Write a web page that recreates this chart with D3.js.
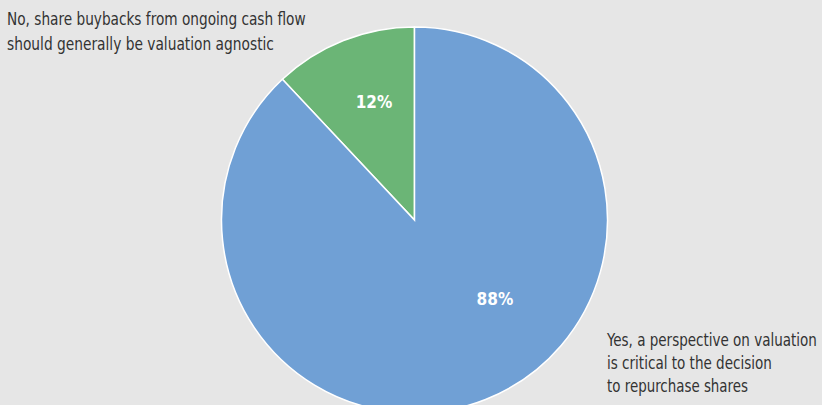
<!DOCTYPE html>
<html>
<head>
<meta charset="utf-8">
<script src="https://cdn.jsdelivr.net/npm/d3@7"></script>
<style>
  body { margin: 0; background: #e6e6e6; }
  svg { display: block; }
  .lbl { font-family: "DejaVu Sans Condensed", "Liberation Sans Narrow", sans-serif; fill: #333; font-size: 17.5px; }
  .pct { font-family: "DejaVu Sans Condensed", "Liberation Sans Narrow", sans-serif; fill: #fff; font-size: 17px; font-weight: bold; }
</style>
</head>
<body>
<script>
// answers to the survey question
const answers = ["No", "Yes"];
const shares = [12, 88];
const colours = ["#6bb576", "#70a0d5"];
const labelLines = [
  ["No, share buybacks from ongoing cash flow", "should generally be valuation agnostic"],
  ["Yes, a perspective on valuation", "is critical to the decision", "to repurchase shares"]
];

const W = 822, H = 405;
const cx = 414.5, cy = 220, R = 193;

const svg = d3.select("body").append("svg").attr("width", W).attr("height", H);
svg.append("rect").attr("width", W).attr("height", H).attr("fill", "#e6e6e6");

const data = answers.map((a, i) => ({ answer: a, value: shares[i], colour: colours[i] }));

// green slice sits just left of 12 o'clock, so run the pie counter-clockwise
const pie = d3.pie().value(d => d.value).sort(null).startAngle(0).endAngle(-2 * Math.PI);
const arc = d3.arc().innerRadius(0).outerRadius(R);

const g = svg.append("g").attr("transform", `translate(${cx},${cy})`);
const arcs = pie(data);

g.selectAll("path").data(arcs).enter().append("path")
  .attr("d", arc)
  .attr("fill", d => d.data.colour)
  .attr("stroke", "#fff")
  .attr("stroke-width", 1.5);

// percentage labels: radius as share of R, angle (deg, clockwise from top) or null = slice middle
const pctPlace = [[0.645, -19], [0.585, 134.6]];
g.selectAll("text.pct").data(arcs).enter().append("text")
  .attr("class", "pct")
  .attr("text-anchor", "middle")
  .attr("dy", "0.36em")
  .attr("transform", (d, i) => {
    const [rf, deg] = pctPlace[i];
    const a = deg == null ? (d.startAngle + d.endAngle) / 2 : deg * Math.PI / 180;
    return `translate(${rf * R * Math.sin(a)},${-rf * R * Math.cos(a)})`;
  })
  .text(d => d.data.value + "%");

// outside labels, squeezed horizontally to the widths of the original's condensed face
const lblPos = [[7, 25, 25], [607, 346, 23]];
const lblWidth = [[299, 267], [210, 165, 141]];
labelLines.forEach((lines, i) => {
  const [x, y, lh] = lblPos[i];
  lines.forEach((ln, j) => {
    const t = svg.append("text").attr("class", "lbl").text(ln);
    const k = lblWidth[i][j] / t.node().getComputedTextLength();
    t.attr("transform", `translate(${x},${y + j * lh}) scale(${k},1)`);
  });
});
</script>
</body>
</html>
